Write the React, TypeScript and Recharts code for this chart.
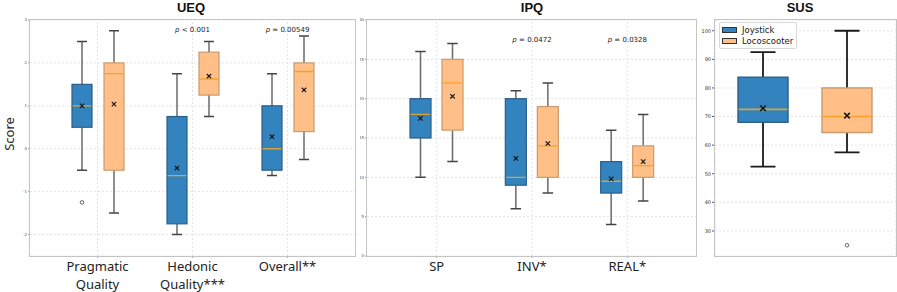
import React from 'react';
import { ComposedChart, Bar, XAxis, YAxis, CartesianGrid, ReferenceLine, ReferenceDot, Legend } from 'recharts';

// series shared by all three panels
const seriesNames = ['Joystick', 'Locoscooter'];
const seriesFill: Record<string, string> = { Joystick: '#3383be', Locoscooter: '#ffbf86' };
const seriesEdge: Record<string, string> = { Joystick: '#2b5f87', Locoscooter: '#c99a6e' };
const seriesMedian: Record<string, string> = { Joystick: '#d8a43a', Locoscooter: '#f4a22c' };

// every box is [lower whisker, Q1, median, Q3, upper whisker]
const ueqCategories = ['Pragmatic\nQuality', 'Hedonic\nQuality***', 'Overall**'];
const ueqJoystickBoxes = [
  [-0.5, 0.5, 1.0, 1.5, 2.5],
  [-2.0, -1.75, -0.625, 0.75, 1.75],
  [-0.625, -0.5, 0.0, 1.0, 1.75],
];
const ueqJoystickMeans = [1.0, -0.45, 0.28];
const ueqJoystickOutliers = [[-1.25], [], []];
const ueqLocoBoxes = [
  [-1.5, -0.5, 1.75, 2.0, 2.75],
  [0.75, 1.25, 1.625, 2.25, 2.5],
  [-0.25, 0.4, 1.8, 2.0, 2.625],
];
const ueqLocoMeans = [1.04, 1.69, 1.37];
const ueqLocoOutliers = [[], [], []];
const ueqTicks = [-2, -1, 0, 1, 2, 3];
const ueqPValues = ['', '< 0.001', '= 0.00549'];

const ipqCategories = ['SP', 'INV*', 'REAL*'];
const ipqJoystickBoxes = [
  [10, 15, 18, 20, 26],
  [6, 9, 10, 20, 21],
  [4, 8, 9.5, 12, 16],
];
const ipqJoystickMeans = [17.5, 12.4, 9.8];
const ipqJoystickOutliers = [[], [], []];
const ipqLocoBoxes = [
  [12, 16, 22, 25, 27],
  [8, 10, 14, 19, 22],
  [7, 10, 11.5, 14, 18],
];
const ipqLocoMeans = [20.3, 14.3, 12.0];
const ipqLocoOutliers = [[], [], []];
const ipqTicks = [0, 5, 10, 15, 20, 25, 30];
const ipqPValues = ['', '= 0.0472', '= 0.0328'];

const susBoxes = [
  [52.5, 68, 72.5, 83.75, 92.5],
  [57.5, 64.4, 70, 80, 100],
];
const susMeans = [72.9, 70.3];
const susOutliers = [[], [25]];
const susTicks = [30, 40, 50, 60, 70, 80, 90, 100];

function buildRows(cats: string[], jb: number[][], jm: number[], jo: number[][], lb: number[][], lm: number[], lo: number[][]) {
  return cats.map((name, i) => ({
    name,
    Joystick: { box: jb[i], mean: jm[i], outliers: jo[i] },
    Locoscooter: { box: lb[i], mean: lm[i], outliers: lo[i] },
    JoystickRange: [jb[i][0], jb[i][4]],
    LocoscooterRange: [lb[i][0], lb[i][4]],
  }));
}

const ueqRows = buildRows(ueqCategories, ueqJoystickBoxes, ueqJoystickMeans, ueqJoystickOutliers, ueqLocoBoxes, ueqLocoMeans, ueqLocoOutliers);
const ipqRows = buildRows(ipqCategories, ipqJoystickBoxes, ipqJoystickMeans, ipqJoystickOutliers, ipqLocoBoxes, ipqLocoMeans, ipqLocoOutliers);
const susRows = seriesNames.map((name, i) => ({
  name,
  stat: { box: susBoxes[i], mean: susMeans[i], outliers: susOutliers[i] },
  range: [susBoxes[i][0], susBoxes[i][4]],
}));

const smallLook = { whisker: '#6a6a6a', whiskerWidth: 1.5, cap: '#444', edgeWidth: 1.2, medianWidth: 1.3, meanSize: 2.2, meanWidth: 1.1 };
const susLook = { whisker: '#1a1a1a', whiskerWidth: 1.8, cap: '#1a1a1a', edgeWidth: 1.4, medianWidth: 1.6, meanSize: 2.8, meanWidth: 1.5 };

// the bar spans the whisker range, everything else is placed on the same linear scale
function BoxShape(props: any) {
  const { x, y, width, height, stat, name, look } = props;
  if (!stat) return null;
  const [lo, q1, med, q3, hi] = stat.box;
  const top = Math.min(y, y + height);
  const bottom = Math.max(y, y + height);
  const py = (v: number) => top + ((hi - v) / (hi - lo)) * (bottom - top);
  const cx = x + width / 2;
  const capHalf = width / 4;
  const my = py(stat.mean);
  const m = look.meanSize;
  return (
    <g>
      <line x1={cx} x2={cx} y1={py(hi)} y2={py(q3)} stroke={look.whisker} strokeWidth={look.whiskerWidth} />
      <line x1={cx} x2={cx} y1={py(q1)} y2={py(lo)} stroke={look.whisker} strokeWidth={look.whiskerWidth} />
      <line x1={cx - capHalf} x2={cx + capHalf} y1={py(hi)} y2={py(hi)} stroke={look.cap} strokeWidth={look.whiskerWidth} />
      <line x1={cx - capHalf} x2={cx + capHalf} y1={py(lo)} y2={py(lo)} stroke={look.cap} strokeWidth={look.whiskerWidth} />
      <rect x={x} y={py(q3)} width={width} height={py(q1) - py(q3)} fill={seriesFill[name]} stroke={seriesEdge[name]} strokeWidth={look.edgeWidth} />
      <line x1={x + 0.6} x2={x + width - 0.6} y1={py(med)} y2={py(med)} stroke={seriesMedian[name]} strokeWidth={look.medianWidth} />
      {stat.outliers.map((o: number, i: number) => (
        <circle key={i} cx={cx} cy={py(o)} r={1.8} fill="none" stroke="#555" strokeWidth={0.9} />
      ))}
      <path d={`M${cx - m},${my - m}L${cx + m},${my + m}M${cx - m},${my + m}L${cx + m},${my - m}`} stroke="#111" strokeWidth={look.meanWidth} />
    </g>
  );
}

function CategoryTick({ x, y, payload }: any) {
  const lines = String(payload.value).split('\n');
  return (
    <text x={x} y={y} textAnchor="middle" fontFamily="'Noto Sans', sans-serif" fontSize={13} fill="#222">
      {lines.map((l, i) => (
        <tspan key={i} x={x} dy={i === 0 ? 11 : 18}>{l}</tspan>
      ))}
    </text>
  );
}

function PLabel({ cx, cy, text }: any) {
  return (
    <text x={cx} y={cy} textAnchor="middle" dominantBaseline="central" fontFamily="'DejaVu Sans', sans-serif" fontSize={7} fill="#222">
      <tspan fontStyle="italic">p</tspan>
      {' ' + text}
    </text>
  );
}

function Frame({ left, top, right, bottom }: any) {
  return (
    <div
      style={{
        position: 'absolute', left: left - 1, top: top - 1, width: right - left + 2, height: bottom - top + 2,
        border: '1.5px solid #c4c4c4', boxSizing: 'border-box', pointerEvents: 'none',
      }}
    />
  );
}

function Title({ x, text }: any) {
  return (
    <div
      style={{
        position: 'absolute', left: x - 40, top: 0, width: 80, textAlign: 'center', lineHeight: '15px',
        fontFamily: "'Liberation Sans', Arial, sans-serif", fontWeight: 'bold', fontSize: 13, color: '#111',
      }}
    >
      {text}
    </div>
  );
}

const gridColor = '#e3e3e3';

function PairedBoxChart({ rows, categories, ticks, domain, pValues, pY, width, margin, yWidth, padding, barSize, barGap }: any) {
  return (
    <ComposedChart width={width} height={292} data={rows} margin={margin} barGap={barGap}>
      <CartesianGrid vertical={false} stroke={gridColor} strokeDasharray="2 2" />
      {categories.map((c: string) => (
        <ReferenceLine key={c} x={c} stroke={gridColor} strokeDasharray="2 2" />
      ))}
      <XAxis dataKey="name" height={36} padding={padding} axisLine={false} tickSize={2} tickMargin={2} tickLine={{ stroke: '#aaa' }} tick={<CategoryTick />} interval={0} />
      <YAxis
        type="number" width={yWidth} domain={domain} ticks={ticks} allowDataOverflow axisLine={false}
        tickSize={2} tickMargin={1} tickLine={{ stroke: '#999' }} tick={{ fontSize: 4, fill: '#555', fontFamily: 'DejaVu Sans' }}
      />
      {categories.map((c: string, i: number) =>
        pValues[i] ? (
          <ReferenceDot key={'p' + c} x={c} y={pY} r={0} shape={(p: any) => <PLabel cx={p.cx} cy={p.cy} text={pValues[i]} />} />
        ) : null
      )}
      {seriesNames.map((s) => (
        <Bar
          key={s}
          dataKey={s + 'Range'}
          barSize={barSize}
          isAnimationActive={false}
          activeBar={false}
          shape={(p: any) => <BoxShape {...p} stat={p.payload[s]} name={s} look={smallLook} />}
        />
      ))}
    </ComposedChart>
  );
}

function SusLegend() {
  return (
    <div
      style={{
        border: '1px solid #d8d8d8', borderRadius: 2, background: '#fff', padding: '1px 3px 1px 2px',
        fontFamily: "'DejaVu Sans', sans-serif", fontSize: 8.5, color: '#222',
      }}
    >
      {seriesNames.map((s) => (
        <div key={s} style={{ display: 'flex', alignItems: 'center', height: 11.5 }}>
          <span style={{ width: 15, height: 6, background: seriesFill[s], border: '0.8px solid #333', boxSizing: 'border-box', marginRight: 5 }} />
          <span>{s}</span>
        </div>
      ))}
    </div>
  );
}

function SusChart() {
  return (
    <ComposedChart width={197} height={292} data={susRows} margin={{ top: 20, right: 1, bottom: 0, left: 0 }}>
      <CartesianGrid stroke={gridColor} strokeDasharray="2 2" />
      <XAxis dataKey="name" height={36} padding={{ left: 6, right: 7 }} axisLine={false} tick={false} tickSize={2.5} tickLine={{ stroke: '#555' }} />
      <YAxis
        type="number" width={15} domain={[21.25, 103.75]} ticks={susTicks} allowDataOverflow axisLine={false}
        tickSize={3} tickMargin={1} tickLine={{ stroke: '#555' }} tick={{ fontSize: 5, fill: '#333', fontFamily: 'DejaVu Sans' }}
      />
      <Legend
        layout="vertical" align="center" verticalAlign="middle"
        wrapperStyle={{ left: 19, top: 22, width: 'auto', height: 'auto' }}
        content={() => <SusLegend />}
      />
      <Bar
        dataKey="range"
        barSize={50}
        isAnimationActive={false}
        activeBar={false}
        shape={(p: any) => <BoxShape {...p} stat={p.payload.stat} name={p.payload.name} look={susLook} />}
      />
    </ComposedChart>
  );
}

export default function App() {
  return (
    <div style={{ position: 'absolute', left: 0, top: 0, width: 897, height: 292, background: '#fff', overflow: 'hidden' }}>
      <div style={{ position: 'absolute', left: 0, top: 0 }}>
        <PairedBoxChart
          rows={ueqRows} categories={ueqCategories} ticks={ueqTicks} domain={[-2.5, 3]}
          pValues={ueqPValues} pY={2.77} width={360} margin={{ top: 20, right: 5, bottom: 0, left: 20 }}
          yWidth={10} padding={{ left: 20, right: 20 }} barSize={20} barGap={12}
        />
      </div>
      <div style={{ position: 'absolute', left: 360, top: 0 }}>
        <PairedBoxChart
          rows={ipqRows} categories={ipqCategories} ticks={ipqTicks} domain={[0, 30]}
          pValues={ipqPValues} pY={27.5} width={340} margin={{ top: 20, right: 4, bottom: 0, left: 0 }}
          yWidth={7} padding={{ left: 22, right: 21 }} barSize={21} barGap={11}
        />
      </div>
      <div style={{ position: 'absolute', left: 700, top: 0 }}>
        <SusChart />
      </div>
      <Frame left={30} top={20} right={355} bottom={256} />
      <Frame left={367} top={20} right={696} bottom={256} />
      <Frame left={715} top={20} right={896} bottom={256} />
      <Title x={191} text="UEQ" />
      <Title x={532} text="IPQ" />
      <Title x={800} text="SUS" />
      <div
        style={{
          position: 'absolute', left: 8.5, top: 134, transform: 'translate(-50%, -50%) rotate(-90deg)',
          fontFamily: "'Noto Sans', sans-serif", fontSize: 13, lineHeight: '14px', color: '#222', whiteSpace: 'nowrap',
        }}
      >
        Score
      </div>
    </div>
  );
}
